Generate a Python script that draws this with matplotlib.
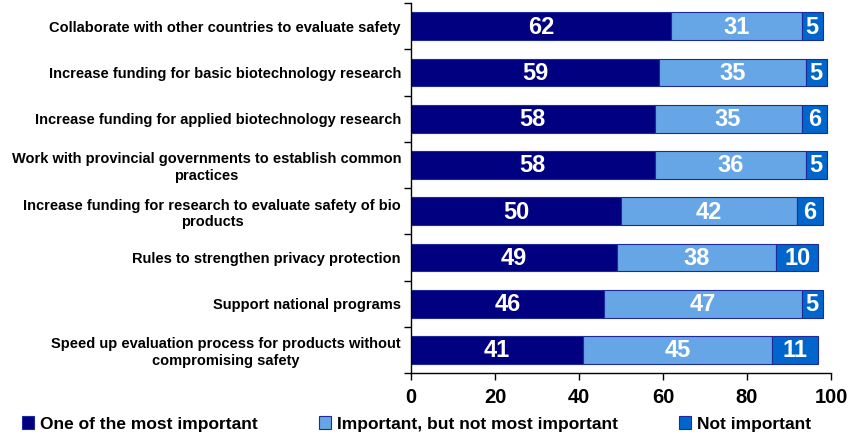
import matplotlib
matplotlib.use("Agg")
import matplotlib.pyplot as plt
from matplotlib.patches import Rectangle
import matplotlib.transforms as mtransforms
import numpy as np

plt.rcParams['font.family'] = ['Liberation Sans', 'DejaVu Sans']
plt.rcParams['font.weight'] = 'bold'

categories = [
    "Collaborate with other countries to evaluate safety",
    "Increase funding for basic biotechnology research",
    "Increase funding for applied biotechnology research",
    "Work with provincial governments to establish common\npractices",
    "Increase funding for research to evaluate safety of bio\nproducts",
    "Rules to strengthen privacy protection",
    "Support national programs",
    "Speed up evaluation process for products without\ncompromising safety",
]
most_important = [62, 59, 58, 58, 50, 49, 46, 41]
important_not_most = [31, 35, 35, 36, 42, 38, 47, 45]
not_important = [5, 5, 6, 5, 6, 10, 5, 11]

series_names = ["One of the most important", "Important, but not most important", "Not important"]
colors = ["#000080", "#66A6E6", "#0066CC"]
xticks = [0, 20, 40, 60, 80, 100]

fig = plt.figure(figsize=(8.49, 4.37), dpi=100)
ax = fig.add_axes([411 / 849, 1 - 373 / 437, 420 / 849, 370 / 437])

y = np.arange(len(categories))
left = np.zeros(len(categories))
for vals, col in zip([most_important, important_not_most, not_important], colors):
    vals = np.array(vals, dtype=float)
    ax.barh(y, vals, left=left, height=0.6, color=col,
            edgecolor="#1c2a9a", linewidth=0.8)
    for yi, l, v in zip(y, left, vals):
        ax.text(l + v / 2, yi + 0.02, f"{int(v)}", ha="center", va="center",
                color="white", fontsize=17, fontweight="bold")
    left += vals

ax.set_xlim(0, 100)
ax.set_ylim(len(categories) - 0.5, -0.5)
ax.set_xticks(xticks)
ax.set_xticklabels([str(t) for t in xticks], fontsize=14.5, fontweight="bold")
ax.set_yticks(y)
ax.set_yticklabels(categories, fontsize=10.5, fontweight="bold", ha="center",
                   multialignment="center")
ax.set_yticks(np.arange(-0.5, len(categories)), minor=True)
ax.tick_params(axis="y", which="major", length=0, pad=8)
ax.tick_params(axis="y", which="minor", length=5, direction="out", width=1)
ax.tick_params(axis="x", length=5, direction="out", width=1, pad=6)

# center each category label on its own block, right edge just left of the axis
fig.canvas.draw()
renderer = fig.canvas.get_renderer()
right_px = 401
for lab in ax.get_yticklabels():
    w = lab.get_window_extent(renderer).width
    xc_px = right_px - w / 2
    lab.set_x(0)
    lab.set_horizontalalignment("center")
    lab.set_transform(mtransforms.offset_copy(
        ax.get_yaxis_transform(), fig=fig,
        x=(xc_px - 411) * 72 / fig.dpi, y=0, units="points"))

for side in ["top", "right"]:
    ax.spines[side].set_visible(False)
for side in ["left", "bottom"]:
    ax.spines[side].set_linewidth(1)
    ax.spines[side].set_color("black")

handles = [Rectangle((0, 0), 1, 1, facecolor=c, edgecolor="#1c2a9a", linewidth=0.8)
           for c in colors]
fig.legend(handles, series_names, loc="center left", bbox_to_anchor=(22 / 849, 1 - 424 / 437),
           ncol=3, frameon=False, prop={"size": 12.5, "weight": "bold"},
           handlelength=0.7, handleheight=0.7, handletextpad=0.35,
           columnspacing=3.5, borderaxespad=0, borderpad=0)

fig.savefig("out.png", dpi=100)
